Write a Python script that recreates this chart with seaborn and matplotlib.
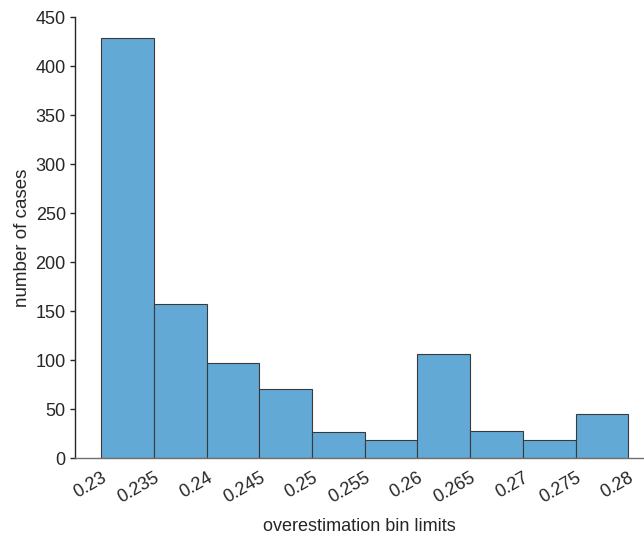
import numpy as np
import matplotlib
matplotlib.use("Agg")
import matplotlib.pyplot as plt
import matplotlib.transforms as mtransforms
import seaborn as sns

# Histogram bins of the overestimation values and the count in each bin
bin_edges = [0.23, 0.235, 0.24, 0.245, 0.25, 0.255, 0.26, 0.265, 0.27, 0.275, 0.28]
counts = [429, 157, 97, 71, 27, 18, 106, 28, 18, 45]
tick_labels = ["0.23", "0.235", "0.24", "0.245", "0.25", "0.255",
               "0.26", "0.265", "0.27", "0.275", "0.28"]

sns.set_style("white")
plt.rcParams["font.family"] = ["Liberation Sans", "DejaVu Sans"]

fig = plt.figure(figsize=(6.44, 5.37), dpi=100)
ax = fig.add_axes([0.1165, 0.147, 0.8835, 0.821])

centers = [(a + b) / 2 for a, b in zip(bin_edges[:-1], bin_edges[1:])]
sns.histplot(x=centers, weights=counts, bins=bin_edges, ax=ax,
             color="#63a9d6", alpha=1.0, edgecolor="#3a3a3a", linewidth=0.8)

ax.set_xlim(0.2275, 0.2815)
ax.set_ylim(0, 450)
ax.set_yticks(np.arange(0, 451, 50))
ax.set_xticks(bin_edges)
ax.set_xticklabels(tick_labels, rotation=30, ha="right", rotation_mode="anchor")

# nudge rotated tick labels slightly to the right of their ticks
shift = mtransforms.ScaledTranslation(4 / 100, 0, fig.dpi_scale_trans)
for lbl in ax.get_xticklabels():
    lbl.set_transform(lbl.get_transform() + shift)

ax.tick_params(axis="y", left=True, direction="out", length=3.6, width=1,
               color="#262626", labelsize=13, labelcolor="#262626", pad=3)
ax.tick_params(axis="x", bottom=False, length=0, labelsize=13,
               labelcolor="#262626", pad=8)

for side in ["top", "right"]:
    ax.spines[side].set_visible(False)
ax.spines["left"].set_color("#262626")
ax.spines["left"].set_linewidth(1.0)
ax.spines["bottom"].set_color("#707070")
ax.spines["bottom"].set_linewidth(1.0)

ax.set_xlabel("overestimation bin limits", fontsize=13, color="#262626", labelpad=8)
ax.set_ylabel("number of cases", fontsize=13.5, color="#262626", labelpad=3)

fig.savefig("out.png", dpi=100)
